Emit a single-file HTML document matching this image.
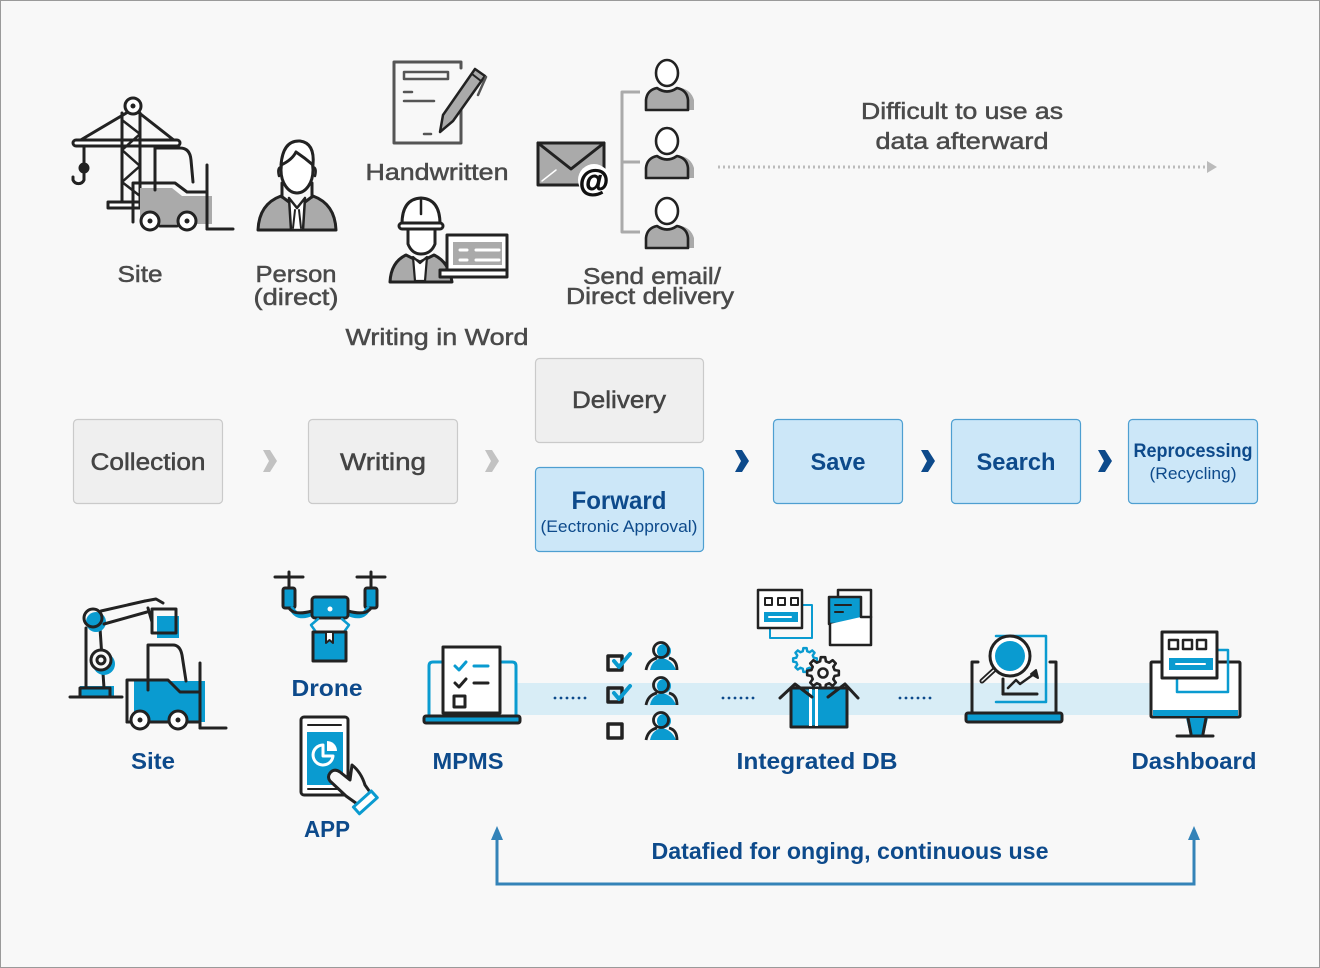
<!DOCTYPE html>
<html>
<head>
<meta charset="utf-8">
<style>
html,body{margin:0;padding:0;background:#f8f8f8;}
svg{display:block;}
text{font-family:"Liberation Sans","Noto Sans CJK KR",sans-serif;}
</style>
</head>
<body>
<svg width="1320" height="968" viewBox="0 0 1320 968" xmlns="http://www.w3.org/2000/svg">
<defs>
  <polygon id="gear" points="11.64,-2.9 15.84,-2.23 15.84,2.23 11.64,2.9 10.29,6.18 12.78,9.63 9.63,12.78 6.18,10.29 2.9,11.64 2.23,15.84 -2.23,15.84 -2.9,11.64 -6.18,10.29 -9.63,12.78 -12.78,9.63 -10.29,6.18 -11.64,2.9 -15.84,2.23 -15.84,-2.23 -11.64,-2.9 -10.29,-6.18 -12.78,-9.63 -9.63,-12.78 -6.18,-10.29 -2.9,-11.64 -2.23,-15.84 2.23,-15.84 2.9,-11.64 6.18,-10.29 9.63,-12.78 12.78,-9.63 10.29,-6.18"/>
</defs>
<rect x="0.5" y="0.5" width="1319" height="967" fill="#f8f8f8" stroke="#9a9a9a" stroke-width="1"/>

<!-- ================= TOP (grayscale) ================= -->
<g stroke="#222" stroke-width="3" fill="none" stroke-linecap="round" stroke-linejoin="round">
  <!-- crane -->
  <line x1="128" y1="112" x2="79" y2="141"/>
  <line x1="138" y1="112" x2="175" y2="141"/>
  <rect x="73" y="140" width="107" height="6" rx="3" fill="#fff"/>
  <line x1="122" y1="113" x2="122" y2="203"/>
  <line x1="140" y1="113" x2="140" y2="203"/>
  <path d="M122 120 L140 134 L122 150 L140 166 L122 182 L140 196" stroke-width="2.5"/>
  <rect x="108" y="202" width="32" height="6" fill="#fff"/>
  <circle cx="133" cy="106" r="8" fill="#fff"/>
  <circle cx="133" cy="106" r="2.5" fill="#222" stroke="none"/>
  <line x1="84" y1="146" x2="84" y2="166"/>
  <circle cx="84" cy="168" r="4" fill="#222"/>
  <path d="M84 170 V180 A6 6 0 0 1 73 180 V177"/>
  <!-- forklift -->
  <path d="M140 188 H172 L182 196 H212 V224 H140 Z" fill="#aaa" stroke="none"/>
  <path d="M133 222 V183 H175 L187 192 H207"/>
  <path d="M155 190 V148 H180 Q190 148 191 160 L193 182"/>
  <line x1="207" y1="165" x2="207" y2="229"/>
  <line x1="207" y1="229" x2="233" y2="229"/>
  <circle cx="150" cy="221" r="9" fill="#fff"/>
  <circle cx="150" cy="221" r="2.5" fill="#222" stroke="none"/>
  <circle cx="187" cy="221" r="9" fill="#fff"/>
  <circle cx="187" cy="221" r="2.5" fill="#222" stroke="none"/>
  <line x1="160" y1="226" x2="177" y2="226"/>

  <!-- person direct -->
  <path d="M258 230 Q259 204 281 196 L297 208 L313 196 Q335 204 336 230 Z" fill="#aaa"/>
  <path d="M289 198 L297 208 L305 198 L303 230 H291 Z" fill="#fff" stroke-width="2.5"/>
  <path d="M295 210 L293 228 M299 210 L301 228" stroke-width="2"/>
  <path d="M282 183 V197 M312 183 V197" />
  <ellipse cx="297" cy="170" rx="16" ry="23" fill="#fff"/>
  <path d="M281 165 Q283 140 300 141 Q315 143 313 165 Q305 158 296 152 Q292 160 281 165 Z" fill="#fff"/>
  <path d="M281 167 Q277 168 279 176 M313 167 Q317 168 315 176" stroke-width="2.5"/>

  <!-- handwritten doc -->
  <path d="M461 110 V143 H394 V62 H461 V68" stroke="#555" stroke-width="3"/>
  <rect x="404" y="72" width="44" height="7" stroke="#555" stroke-width="2.5"/>
  <line x1="404" y1="92" x2="412" y2="92" stroke="#555" stroke-width="2.5"/>
  <line x1="404" y1="101" x2="434" y2="101" stroke="#555" stroke-width="2.5"/>
  <line x1="424" y1="134" x2="431" y2="134" stroke="#555" stroke-width="2.5"/>
  <polygon points="475,69 485,76 453,121 440,132 443,115" fill="#aaa" stroke="#222" stroke-width="2.5"/>
  <line x1="472" y1="74" x2="481" y2="81" stroke-width="2"/>
  <path d="M486 77 L478 95" stroke="#555" stroke-width="2.5"/>

  <!-- worker with laptop -->
  <path d="M390 282 Q391 262 406 255 L420 262 L434 255 Q449 262 452 282 Z" fill="#aaa"/>
  <path d="M413 257 L420 263 L427 257 L425 281 H415 Z" fill="#fff" stroke-width="2.2"/>
  <path d="M408 229 V244 Q412 254 421 254 Q431 254 435 244 V229" fill="#fff"/>
  <path d="M402 224 Q402 199 421 198 Q440 199 440 224" fill="#fff"/>
  <line x1="421" y1="200" x2="421" y2="214" stroke-width="2.5"/>
  <rect x="399" y="223" width="44" height="6" rx="3" fill="#fff"/>
  <rect x="447" y="235" width="60" height="35" fill="#fff"/>
  <rect x="453" y="242" width="49" height="23" fill="#aaa" stroke="none"/>
  <line x1="460" y1="250" x2="467" y2="250" stroke="#fff" stroke-width="3"/>
  <line x1="460" y1="260" x2="467" y2="260" stroke="#fff" stroke-width="3"/>
  <line x1="476" y1="250" x2="499" y2="250" stroke="#fff" stroke-width="3"/>
  <line x1="476" y1="260" x2="499" y2="260" stroke="#fff" stroke-width="3"/>
  <rect x="440" y="270" width="67" height="7" fill="#fff"/>

  <!-- email -->
  <rect x="538" y="143" width="66" height="42" fill="#aaa"/>
  <path d="M538 143 L571 169 L604 143"/>
  <line x1="542" y1="181" x2="556" y2="170" stroke="#fff" stroke-width="1.5"/>
  <circle cx="594" cy="180" r="16" fill="#fff" stroke="none"/>

  <!-- bracket -->
  <path d="M640 92 H622 V232 H640 M622 162 H640" stroke="#aaa" stroke-linecap="butt"/>
</g>
<text x="594" y="191" font-size="31" font-weight="bold" text-anchor="middle" fill="#111" stroke="#111" stroke-width="1">@</text>

<!-- three persons -->
<g stroke="#222" stroke-width="2.6" stroke-linejoin="round">
  <g>
    <path d="M650 110 V100 Q651 90 660 88 Q671 94 681 88 Q691 90 694 100 V110 Z" fill="#aaa" stroke="none"/>
    <path d="M646 110 V100 Q647 90 657 88 Q667 95 677 88 Q687 90 688 100 V110 Z" fill="#aaa"/>
    <ellipse cx="667" cy="73" rx="11" ry="13" fill="#fff"/>
  </g>
  <g transform="translate(0,68)">
    <path d="M650 110 V100 Q651 90 660 88 Q671 94 681 88 Q691 90 694 100 V110 Z" fill="#aaa" stroke="none"/>
    <path d="M646 110 V100 Q647 90 657 88 Q667 95 677 88 Q687 90 688 100 V110 Z" fill="#aaa"/>
    <ellipse cx="667" cy="73" rx="11" ry="13" fill="#fff"/>
  </g>
  <g transform="translate(0,138)">
    <path d="M650 110 V100 Q651 90 660 88 Q671 94 681 88 Q691 90 694 100 V110 Z" fill="#aaa" stroke="none"/>
    <path d="M646 110 V100 Q647 90 657 88 Q667 95 677 88 Q687 90 688 100 V110 Z" fill="#aaa"/>
    <ellipse cx="667" cy="73" rx="11" ry="13" fill="#fff"/>
  </g>
</g>

<!-- dotted arrow -->
<line x1="718" y1="167" x2="1208" y2="167" stroke="#bbb" stroke-width="3" stroke-dasharray="2 3"/>
<polygon points="1207,161 1217,167 1207,173" fill="#bbb"/>

<!-- top labels -->
<g fill="#4a4a4a" stroke="#4a4a4a" stroke-width="0.5" font-size="23" text-anchor="middle">
  <text x="140" y="282" textLength="45" lengthAdjust="spacingAndGlyphs">Site</text>
  <text x="296" y="282" textLength="81" lengthAdjust="spacingAndGlyphs">Person</text>
  <text x="296" y="305" textLength="85" lengthAdjust="spacingAndGlyphs">(direct)</text>
  <text x="437" y="180" textLength="143" lengthAdjust="spacingAndGlyphs">Handwritten</text>
  <text x="437" y="345" textLength="183" lengthAdjust="spacingAndGlyphs">Writing in Word</text>
  <text x="652" y="284" textLength="138" lengthAdjust="spacingAndGlyphs">Send email/</text>
  <text x="650" y="304" textLength="168" lengthAdjust="spacingAndGlyphs">Direct delivery</text>
  <text x="962" y="119" textLength="202" lengthAdjust="spacingAndGlyphs">Difficult to use as</text>
  <text x="962" y="149" textLength="173" lengthAdjust="spacingAndGlyphs">data afterward</text>
</g>

<!-- ================= MIDDLE ROW ================= -->
<g stroke="#cacaca" stroke-width="1.2" fill="#efefef">
  <rect x="73.5" y="419.5" width="149" height="84" rx="4"/>
  <rect x="308.5" y="419.5" width="149" height="84" rx="4"/>
  <rect x="535.5" y="358.5" width="168" height="84" rx="4"/>
</g>
<g stroke="#4e9fd1" stroke-width="1.2" fill="#cce7f8">
  <rect x="535.5" y="467.5" width="168" height="84" rx="4"/>
  <rect x="773.5" y="419.5" width="129" height="84" rx="4"/>
  <rect x="951.5" y="419.5" width="129" height="84" rx="4"/>
  <rect x="1128.5" y="419.5" width="129" height="84" rx="4"/>
</g>
<!-- chevrons -->
<g fill="#c2c2c2">
  <polygon points="263,450 270,450 277,461 270,472 263,472 269,461"/>
  <polygon points="485,450 492,450 499,461 492,472 485,472 491,461"/>
</g>
<g fill="#0d4a8b">
  <polygon points="735,450 742,450 749,461 742,472 735,472 741,461"/>
  <polygon points="921,450 928,450 935,461 928,472 921,472 927,461"/>
  <polygon points="1098,450 1105,450 1112,461 1105,472 1098,472 1104,461"/>
</g>
<g fill="#444" stroke="#444" stroke-width="0.5" font-size="24" text-anchor="middle">
  <text x="148" y="470" textLength="115" lengthAdjust="spacingAndGlyphs">Collection</text>
  <text x="383" y="470" textLength="86" lengthAdjust="spacingAndGlyphs">Writing</text>
  <text x="619" y="408" textLength="94" lengthAdjust="spacingAndGlyphs">Delivery</text>
</g>
<g fill="#0d4a8b" text-anchor="middle">
  <text x="619" y="509" font-size="25" font-weight="bold" textLength="95" lengthAdjust="spacingAndGlyphs">Forward</text>
  <text x="619" y="532" font-size="17" textLength="157" lengthAdjust="spacingAndGlyphs">(Eectronic Approval)</text>
  <text x="838" y="470" font-size="24" font-weight="bold" textLength="55" lengthAdjust="spacingAndGlyphs">Save</text>
  <text x="1016" y="470" font-size="24" font-weight="bold" textLength="79" lengthAdjust="spacingAndGlyphs">Search</text>
  <text x="1193" y="457" font-size="19" font-weight="bold" textLength="119" lengthAdjust="spacingAndGlyphs">Reprocessing</text>
  <text x="1193" y="479" font-size="17" textLength="87" lengthAdjust="spacingAndGlyphs">(Recycling)</text>
</g>

<!-- ================= BOTTOM ================= -->
<rect x="515" y="683" width="637" height="32" fill="#d8edf6"/>
<g fill="#0d4a8b">
  <circle cx="555" cy="698" r="1.4"/><circle cx="561" cy="698" r="1.4"/><circle cx="567" cy="698" r="1.4"/><circle cx="573" cy="698" r="1.4"/><circle cx="579" cy="698" r="1.4"/><circle cx="585" cy="698" r="1.4"/>
  <circle cx="723" cy="698" r="1.4"/><circle cx="729" cy="698" r="1.4"/><circle cx="735" cy="698" r="1.4"/><circle cx="741" cy="698" r="1.4"/><circle cx="747" cy="698" r="1.4"/><circle cx="753" cy="698" r="1.4"/>
  <circle cx="900" cy="698" r="1.4"/><circle cx="906" cy="698" r="1.4"/><circle cx="912" cy="698" r="1.4"/><circle cx="918" cy="698" r="1.4"/><circle cx="924" cy="698" r="1.4"/><circle cx="930" cy="698" r="1.4"/>
</g>

<g stroke="#222" stroke-width="3" fill="none" stroke-linecap="round" stroke-linejoin="round">
  <!-- site: robot arm + forklift -->
  <rect x="80" y="686" width="34" height="10" fill="#0a9bd0" stroke="none"/>
  <line x1="70" y1="697" x2="122" y2="697"/>
  <path d="M80 696 V688 H110 V696"/>
  <path d="M86 688 L86 628 M104 688 L100 628"/>
  <circle cx="96" cy="622" r="10" fill="#0a9bd0" stroke="none"/>
  <circle cx="93" cy="618" r="9" fill="none"/>
  <circle cx="104" cy="664" r="11" fill="#0a9bd0" stroke="none"/>
  <circle cx="101" cy="660" r="10" fill="#f8f8f8"/>
  <circle cx="101" cy="660" r="4"/>
  <path d="M101 611 L145 601 M104 624 L147 612"/>
  <path d="M145 601 L156 599 L163 603"/>
  <rect x="157" y="616" width="22" height="22" fill="#0a9bd0" stroke="none"/>
  <rect x="152" y="609" width="24" height="24" fill="none"/>
  <line x1="148" y1="608" x2="152" y2="622"/>
  <path d="M134 681 H205 V722 H134 Z" fill="#0a9bd0" stroke="none"/>
  <path d="M127 722 V680 H168 L180 692 H200"/>
  <path d="M148 690 V645 H173 Q180 645 182 655 L186 681"/>
  <line x1="200" y1="663" x2="200" y2="728"/>
  <line x1="200" y1="728" x2="226" y2="728"/>
  <line x1="127" y1="722" x2="200" y2="722"/>
  <circle cx="140" cy="720" r="9" fill="#fff"/>
  <circle cx="140" cy="720" r="2.5" fill="#222" stroke="none"/>
  <circle cx="178" cy="720" r="9" fill="#fff"/>
  <circle cx="178" cy="720" r="2.5" fill="#222" stroke="none"/>

  <!-- drone -->
  <line x1="275" y1="577" x2="303" y2="577"/>
  <line x1="357" y1="577" x2="385" y2="577"/>
  <line x1="289" y1="572" x2="289" y2="588"/>
  <line x1="371" y1="572" x2="371" y2="588"/>
  <rect x="283" y="588" width="12" height="20" rx="2" fill="#0a9bd0"/>
  <rect x="365" y="588" width="12" height="20" rx="2" fill="#0a9bd0"/>
  <path d="M292 609 Q298 620 313 613" stroke="#0a9bd0" stroke-width="5"/>
  <path d="M368 609 Q362 620 347 613" stroke="#0a9bd0" stroke-width="5"/>
  <path d="M289 608 Q294 616 312 611"/>
  <path d="M371 608 Q366 616 348 611"/>
  <rect x="312" y="597" width="36" height="21" rx="3" fill="#0a9bd0"/>
  <circle cx="330" cy="609" r="2.5" fill="#fff" stroke="none"/>
  <path d="M316 632 L311 625 L318 619 M344 632 L349 625 L342 619" stroke="#0a9bd0" stroke-width="2.5"/>
  <rect x="313" y="632" width="33" height="29" fill="#0a9bd0"/>
  <path d="M326 633 V643 L329.5 640 L333 643 V633" fill="#fff" stroke-width="2"/>

  <!-- APP phone -->
  <rect x="301" y="717" width="47" height="78" rx="3" fill="#fff"/>
  <rect x="307" y="732" width="36" height="53" fill="#0a9bd0" stroke="none"/>
  <line x1="308" y1="725" x2="341" y2="725" stroke-width="2"/>
  <line x1="308" y1="789" x2="341" y2="789" stroke-width="2"/>
  <path d="M323 745 A10 10 0 1 0 333 756 H323 Z" fill="none" stroke="#fff" stroke-width="3"/>
  <path d="M327 741 A10 10 0 0 1 337 751 H327 Z" fill="#fff" stroke="none"/>
  <path d="M330 773 Q334 768 340 772 L350 780 L352 765 Q361 772 365 785 L372 795 L360 806 L346 796 L330 781 Q327 777 330 773 Z" fill="#f8f8f8"/>
  <rect x="353" y="798" width="24" height="9" transform="rotate(-42 365 802)" fill="#fff" stroke="#0a9bd0"/>

  <!-- MPMS laptop -->
  <path d="M429 716 V666 Q429 662 433 662 H512 Q516 662 516 666 V716" stroke="#0a9bd0"/>
  <rect x="443" y="647" width="57" height="66" fill="#fff"/>
  <path d="M455 666 L459 670 L466 662" stroke="#0a9bd0"/>
  <line x1="474" y1="666" x2="488" y2="666" stroke="#0a9bd0"/>
  <path d="M455 683 L459 687 L466 679"/>
  <line x1="474" y1="683" x2="488" y2="683"/>
  <rect x="454" y="696" width="11" height="11"/>
  <rect x="424" y="716" width="96" height="7" rx="2" fill="#0a9bd0"/>

  <!-- checkboxes -->
  <rect x="608" y="656" width="14" height="14" stroke-width="3.5"/>
  <path d="M614 661 L619 667 L630 654" stroke="#0a9bd0" stroke-width="4"/>
  <rect x="608" y="688" width="14" height="14" stroke-width="3.5"/>
  <path d="M614 693 L619 699 L630 686" stroke="#0a9bd0" stroke-width="4"/>
  <rect x="608" y="724" width="14" height="14" stroke-width="3.5"/>
</g>
<g stroke="#222" stroke-width="2.8" stroke-linejoin="round" fill="#0a9bd0">
  <g>
    <path d="M650 670 Q652 660 662 658 Q672 660 676 670 Z" stroke="none"/>
    <circle cx="664" cy="651" r="7" stroke="none"/>
    <path d="M646 670 Q648 660 657 658 M669 658 Q677 660 677 670" fill="none"/>
    <circle cx="661" cy="650" r="7.5" fill="none"/>
  </g>
  <g transform="translate(0,35)">
    <path d="M650 670 Q652 660 662 658 Q672 660 676 670 Z" stroke="none"/>
    <circle cx="664" cy="651" r="7" stroke="none"/>
    <path d="M646 670 Q648 660 657 658 M669 658 Q677 660 677 670" fill="none"/>
    <circle cx="661" cy="650" r="7.5" fill="none"/>
  </g>
  <g transform="translate(0,70)">
    <path d="M650 670 Q652 660 662 658 Q672 660 676 670 Z" stroke="none"/>
    <circle cx="664" cy="651" r="7" stroke="none"/>
    <path d="M646 670 Q648 660 657 658 M669 658 Q677 660 677 670" fill="none"/>
    <circle cx="661" cy="650" r="7.5" fill="none"/>
  </g>
</g>

<g stroke="#222" stroke-width="3" fill="none" stroke-linecap="round" stroke-linejoin="round">
  <!-- Integrated DB -->
  <rect x="770" y="605" width="42" height="33" stroke="#0a9bd0" stroke-width="2"/>
  <rect x="758" y="590" width="44" height="38" fill="#fff" stroke-width="2.5"/>
  <rect x="765" y="598" width="7" height="7" stroke-width="2"/>
  <rect x="778" y="598" width="7" height="7" stroke-width="2"/>
  <rect x="791" y="598" width="7" height="7" stroke-width="2"/>
  <rect x="764" y="612" width="34" height="10" fill="#0a9bd0" stroke="none"/>
  <line x1="769" y1="617" x2="791" y2="617" stroke="#fff" stroke-width="2"/>
  <path d="M838 596 V590 H871 V617" stroke-width="2.5"/>
  <rect x="829" y="597" width="32" height="27" fill="#0a9bd0" stroke-width="2.5"/>
  <line x1="835" y1="605" x2="851" y2="605" stroke-width="2"/>
  <line x1="835" y1="612" x2="843" y2="612" stroke-width="2"/>
  <path d="M861 617 H871 V645 H830 V624" fill="#fff" stroke-width="2.5"/>
  <use href="#gear" transform="translate(805,660) scale(0.75)" fill="none" stroke="#0a9bd0" stroke-width="3.2"/>
  <use href="#gear" transform="translate(823,673)" fill="#f8f8f8" stroke="#222" stroke-width="2.6"/>
  <circle cx="823" cy="673" r="4.5" stroke-width="2.6"/>
  <rect x="791" y="688" width="56" height="39" fill="#0a9bd0"/>
  <rect x="809" y="689" width="3" height="37" fill="#fff" stroke="none"/>
  <rect x="815" y="689" width="3" height="37" fill="#fff" stroke="none"/>
  <path d="M780 698 L795 684 L812 697"/>
  <path d="M828 697 L845 684 L858 698"/>

  <!-- search laptop -->
  <path d="M996 636 H1046 V702 H996" stroke="#0a9bd0" stroke-width="2.5"/>
  <path d="M972 713 V662 H978 M1050 662 H1056 V713"/>
  <line x1="1003" y1="679" x2="1003" y2="694"/>
  <line x1="1003" y1="694" x2="1037" y2="694"/>
  <path d="M1008 688 L1016 680 L1020 684 L1034 674" stroke-width="2.5"/>
  <polygon points="1036,670 1038,678 1031,674" fill="#222" stroke-width="2"/>
  <line x1="994" y1="670" x2="982" y2="681" stroke-width="5"/>
  <line x1="994" y1="670" x2="982" y2="681" stroke="#f8f8f8" stroke-width="1.5"/>
  <circle cx="1010" cy="656" r="20" fill="#fff"/>
  <circle cx="1010" cy="656" r="15" fill="#0a9bd0" stroke="none"/>
  <rect x="966" y="713" width="96" height="9" rx="2" fill="#0a9bd0"/>

  <!-- dashboard -->
  <rect x="1151" y="662" width="89" height="55" rx="1" fill="#fff"/>
  <rect x="1153" y="710" width="85" height="6" fill="#0a9bd0" stroke="none"/>
  <polygon points="1186,718 1208,718 1204,735 1190,735" fill="#0a9bd0" stroke="none"/>
  <path d="M1188 718 L1191 734 M1206 718 L1203 734"/>
  <line x1="1177" y1="736" x2="1213" y2="736"/>
  <rect x="1177" y="650" width="51" height="42" stroke="#0a9bd0" stroke-width="2.5"/>
  <rect x="1162" y="632" width="55" height="46" fill="#fff"/>
  <rect x="1169" y="640" width="9" height="9" stroke-width="2.5"/>
  <rect x="1183" y="640" width="9" height="9" stroke-width="2.5"/>
  <rect x="1197" y="640" width="9" height="9" stroke-width="2.5"/>
  <rect x="1169" y="658" width="44" height="12" fill="#0a9bd0" stroke="none"/>
  <line x1="1176" y1="664" x2="1205" y2="664" stroke="#fff" stroke-width="2"/>
</g>

<!-- bottom labels -->
<g fill="#0d4a8b" font-size="23" font-weight="bold" text-anchor="middle">
  <text x="153" y="769" textLength="44" lengthAdjust="spacingAndGlyphs">Site</text>
  <text x="327" y="696" textLength="71" lengthAdjust="spacingAndGlyphs">Drone</text>
  <text x="327" y="837" textLength="46" lengthAdjust="spacingAndGlyphs">APP</text>
  <text x="468" y="769" textLength="71" lengthAdjust="spacingAndGlyphs">MPMS</text>
  <text x="817" y="769" textLength="161" lengthAdjust="spacingAndGlyphs">Integrated DB</text>
  <text x="1194" y="769" textLength="125" lengthAdjust="spacingAndGlyphs">Dashboard</text>
  <text x="850" y="859" textLength="397" lengthAdjust="spacingAndGlyphs">Datafied for onging, continuous use</text>
</g>

<!-- bracket arrow -->
<path d="M497 838 V884 H1194 V838" fill="none" stroke="#3483b8" stroke-width="3"/>
<polygon points="491,840 497,826 503,840" fill="#3483b8"/>
<polygon points="1188,840 1194,826 1200,840" fill="#3483b8"/>
</svg>
</body>
</html>
